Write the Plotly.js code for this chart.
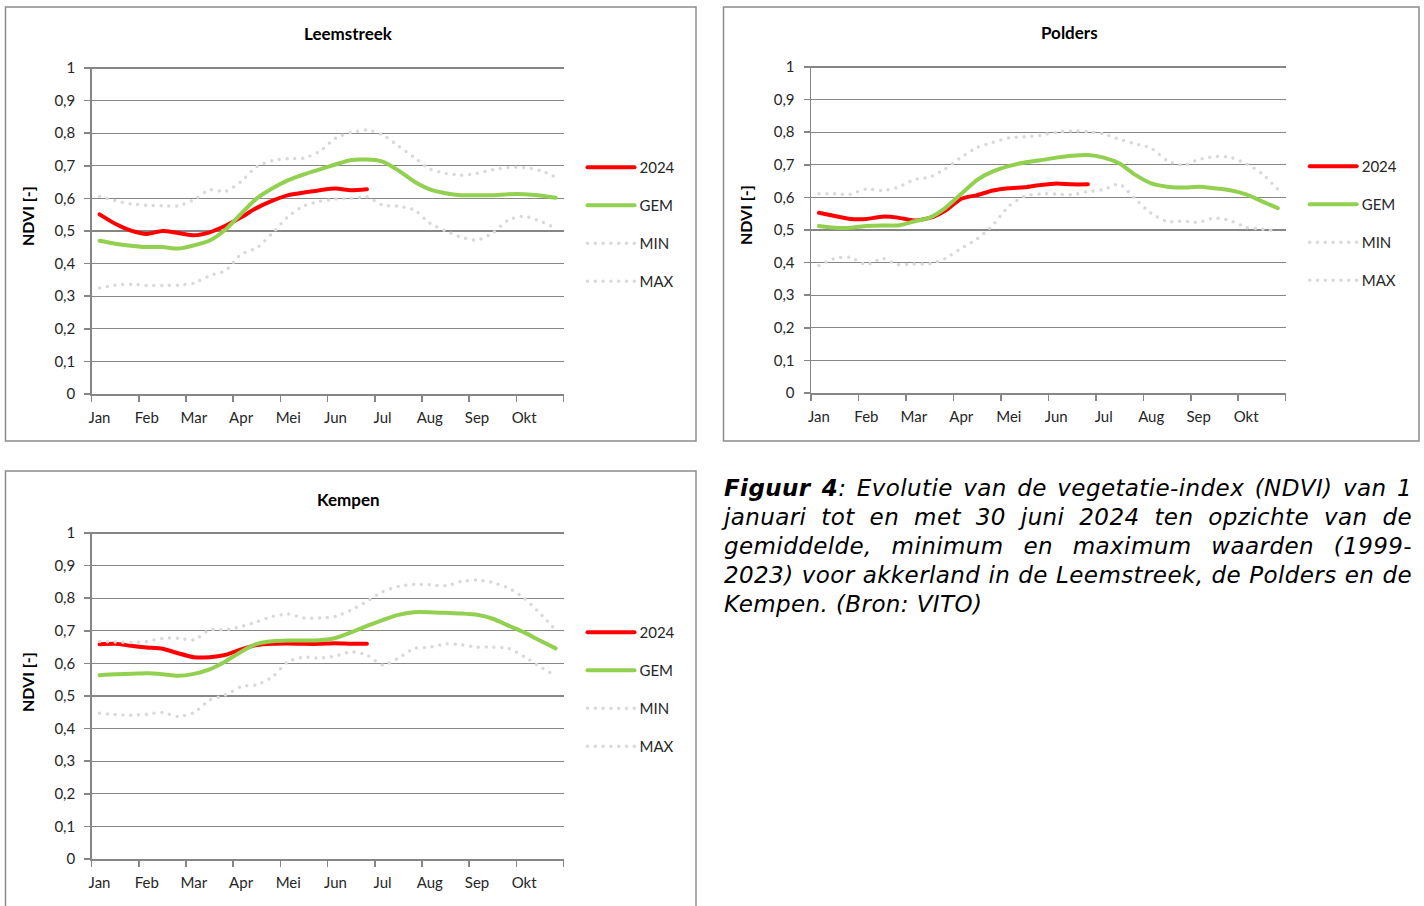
<!DOCTYPE html>
<html>
<head>
<meta charset="utf-8">
<script src="https://cdn.plot.ly/plotly-3.0.1.min.js"></script>
<style>
html, body { margin: 0; padding: 0; background: #fff; }
#wrap { position: relative; width: 1424px; height: 906px; overflow: hidden; }
#chart { position: absolute; left: 0; top: 0; width: 1424px; height: 906px; }
#chart path.js-line { stroke-linecap: round; stroke-linejoin: round; }
#caption { position: absolute; left: 724px; top: 474px; width: 688px;
  font-family: "DejaVu Sans", Verdana, sans-serif; font-style: italic; font-size: 23px;
  letter-spacing: 0.4px; line-height: 29px; color: #000; }
#caption .ln { text-align: justify; text-align-last: justify; white-space: nowrap; }
#caption .ln.last { text-align: left; text-align-last: left; }
</style>
</head>
<body>
<div id="wrap">
<div id="chart"></div>
<div id="caption">
<div class="ln"><b>Figuur 4</b>: Evolutie van de vegetatie-index (NDVI) van 1</div>
<div class="ln">januari tot en met 30 juni 2024 ten opzichte van de</div>
<div class="ln">gemiddelde, minimum en maximum waarden (1999-</div>
<div class="ln">2023) voor akkerland in de Leemstreek, de Polders en de</div>
<div class="ln last">Kempen. (Bron: VITO)</div>
</div>
</div>
<script>
// ---- data (3 values per month, Jan..Okt) ----
const months = ['Jan','Feb','Mar','Apr','Mei','Jun','Jul','Aug','Sep','Okt'];
const seriesNames = ['2024','GEM','MIN','MAX'];
const panelTitles = ['Leemstreek','Polders','Kempen'];
const yTitle = 'NDVI [-]';

const leem2024 = [0.551,0.522,0.501,0.491,0.500,0.494,0.487,0.496,0.516,0.542,0.571,0.593,0.610,0.618,0.625,0.630,0.625,0.628];
const leemGem  = [0.470,0.461,0.455,0.451,0.451,0.446,0.456,0.471,0.504,0.553,0.600,0.631,0.656,0.674,0.689,0.704,0.718,0.719,0.713,0.686,0.652,0.628,0.616,0.610,0.610,0.610,0.613,0.613,0.609,0.602];
const leemMin  = [0.325,0.334,0.337,0.333,0.333,0.334,0.340,0.363,0.378,0.429,0.448,0.494,0.545,0.577,0.591,0.598,0.600,0.605,0.579,0.576,0.565,0.524,0.500,0.481,0.472,0.494,0.534,0.545,0.530,0.509];
const leemMax  = [0.606,0.593,0.583,0.579,0.577,0.577,0.596,0.626,0.621,0.652,0.698,0.716,0.722,0.724,0.744,0.785,0.802,0.810,0.795,0.761,0.726,0.690,0.677,0.671,0.677,0.688,0.695,0.695,0.686,0.665];

const pold2024 = [0.553,0.543,0.534,0.534,0.541,0.538,0.529,0.537,0.560,0.596,0.607,0.621,0.628,0.631,0.638,0.643,0.640,0.640];
const poldGem  = [0.512,0.507,0.507,0.512,0.514,0.514,0.526,0.538,0.568,0.611,0.654,0.680,0.696,0.707,0.714,0.722,0.728,0.730,0.722,0.704,0.669,0.643,0.633,0.630,0.633,0.628,0.622,0.609,0.588,0.567];
const poldMin  = [0.391,0.413,0.416,0.393,0.413,0.394,0.396,0.396,0.413,0.444,0.473,0.515,0.573,0.604,0.611,0.610,0.608,0.618,0.624,0.641,0.595,0.551,0.526,0.527,0.524,0.537,0.529,0.508,0.503,0.496];
const poldMax  = [0.611,0.611,0.610,0.626,0.621,0.631,0.654,0.662,0.688,0.723,0.753,0.769,0.782,0.786,0.790,0.800,0.804,0.802,0.795,0.778,0.764,0.751,0.713,0.698,0.716,0.725,0.723,0.703,0.673,0.625];

const kemp2024 = [0.659,0.660,0.654,0.649,0.645,0.631,0.619,0.619,0.626,0.643,0.656,0.660,0.661,0.660,0.660,0.662,0.660,0.660];
const kempGem  = [0.564,0.567,0.568,0.570,0.567,0.562,0.568,0.582,0.606,0.636,0.660,0.668,0.670,0.670,0.671,0.678,0.695,0.715,0.733,0.749,0.757,0.757,0.755,0.753,0.749,0.737,0.716,0.695,0.670,0.646];
const kempMin  = [0.447,0.443,0.441,0.444,0.449,0.437,0.449,0.488,0.503,0.529,0.534,0.559,0.606,0.619,0.616,0.623,0.636,0.626,0.595,0.616,0.646,0.650,0.660,0.657,0.650,0.650,0.646,0.621,0.590,0.562];
const kempMax  = [0.667,0.666,0.664,0.667,0.677,0.677,0.672,0.703,0.703,0.713,0.728,0.744,0.752,0.739,0.739,0.744,0.764,0.790,0.820,0.836,0.842,0.841,0.838,0.851,0.856,0.848,0.831,0.800,0.754,0.703];

const yTicks = [0,0.1,0.2,0.3,0.4,0.5,0.6,0.7,0.8,0.9,1];

// ---- build ----
const W = 1424, H = 906;
const px = v => v / W;
const py = v => 1 - v / H;
const perMonth = 3;
const nCat = months.length * perMonth;
const idx = n => Array.from({length: n}, (_, i) => i);
const labelVals = months.map((m, i) => i * perMonth);
const tickMarks = Array.from({length: months.length + 1}, (_, i) => i * perMonth - 0.5);
const yTop = 1.004; // tiny headroom so the gridline at 1 is drawn

const panels = [
  {data: [leem2024, leemGem, leemMin, leemMax], xd: [91.7, 563.5], yd: [394, 68], legend: 'legend', box: [5.5, 696, 7, 441], title: [348, 34], ytitle: [27, 216]},
  {data: [pold2024, poldGem, poldMin, poldMax], xd: [811, 1285.7], yd: [393, 67], legend: 'legend2', box: [723.5, 1419, 7, 441], title: [1069, 33], ytitle: [745, 215]},
  {data: [kemp2024, kempGem, kempMin, kempMax], xd: [91.7, 563.5], yd: [859, 533], legend: 'legend3', box: [5.5, 696, 471, 920], title: [348, 499], ytitle: [27, 682]}
];

const styles = [
  {color: '#ff0000', width: 4, dash: 'solid'},
  {color: '#92d050', width: 4, dash: 'solid'},
  {color: '#d9d9d9', width: 3.5, dash: '0px,7.8px'},
  {color: '#d9d9d9', width: 3.5, dash: '0px,7.8px'}
];

const traces = [];
const layout = {
  width: W, height: H,
  margin: {l: 0, r: 0, t: 0, b: 0},
  paper_bgcolor: '#fff', plot_bgcolor: 'rgba(0,0,0,0)',
  separators: ', ',
  font: {family: 'Lato, "Open Sans", sans-serif', size: 15, color: '#262626'},
  showlegend: true,
  shapes: [], annotations: []
};

panels.forEach((p, k) => {
  const xa = k === 0 ? 'x' : 'x' + (k + 1);
  const ya = k === 0 ? 'y' : 'y' + (k + 1);
  p.data.forEach((vals, s) => {
    traces.push({
      type: 'scatter', mode: 'lines',
      x: idx(vals.length), y: vals,
      name: seriesNames[s],
      xaxis: xa, yaxis: ya,
      legend: p.legend,
      legendgroup: 'g' + k + '_' + s,
      line: {color: styles[s].color, width: styles[s].width, dash: styles[s].dash, shape: 'spline', smoothing: 0.6},
      hoverinfo: 'skip'
    });
  });
  const xKey = k === 0 ? 'xaxis' : 'xaxis' + (k + 1);
  const yKey = k === 0 ? 'yaxis' : 'yaxis' + (k + 1);
  const yPix = p.yd[0] - (p.yd[0] - p.yd[1]) * yTop;
  layout[xKey] = {
    domain: [px(p.xd[0]), px(p.xd[1])], anchor: ya,
    range: [-0.5, nCat - 0.5], fixedrange: true,
    tickmode: 'array', tickvals: labelVals, ticktext: months,
    ticks: '', ticklabelstandoff: 9,
    showgrid: false, zeroline: false,
    showline: true, linecolor: '#868686', linewidth: 1.5,
    tickfont: {size: 15, color: '#262626'},
    minor: {tickmode: 'array', tickvals: tickMarks, ticks: 'outside', ticklen: 6, tickwidth: 1.5, tickcolor: '#868686', showgrid: false}
  };
  layout[yKey] = {
    domain: [py(p.yd[0]), py(yPix)], anchor: xa,
    range: [0, yTop], fixedrange: true,
    tickmode: 'array', tickvals: yTicks,
    ticks: 'outside', ticklen: 6, tickwidth: 1.5, tickcolor: '#868686',
    ticklabelstandoff: 6,
    showgrid: true, gridcolor: '#868686', gridwidth: 1.3,
    zeroline: false, showline: true, linecolor: '#868686', linewidth: 1.5,
    tickfont: {size: 15, color: '#262626'}
  };
  layout[p.legend] = {
    x: px(p.xd[1] + 19), xanchor: 'left',
    y: py(p.yd[1] + 83), yanchor: 'top',
    bgcolor: 'rgba(0,0,0,0)', borderwidth: 0,
    font: {size: 15, color: '#262626'},
    itemwidth: 47,
    tracegroupgap: 15.5, traceorder: 'grouped',
    itemclick: false, itemdoubleclick: false
  };
  layout.shapes.push({
    type: 'rect', xref: 'paper', yref: 'paper', layer: 'below',
    x0: px(p.box[0]), x1: px(p.box[1]), y0: py(p.box[3]), y1: py(p.box[2]),
    line: {color: '#8c8c8c', width: 1.5}, fillcolor: 'rgba(0,0,0,0)'
  });
  layout.annotations.push({
    xref: 'paper', yref: 'paper', x: px(p.title[0]), y: py(p.title[1]),
    xanchor: 'center', yanchor: 'middle', showarrow: false,
    text: '<b>' + panelTitles[k] + '</b>', font: {size: 17, color: '#000'}
  });
  layout.annotations.push({
    xref: 'paper', yref: 'paper', x: px(p.ytitle[0]), y: py(p.ytitle[1]),
    xanchor: 'center', yanchor: 'middle', showarrow: false, textangle: -90,
    text: '<b>' + yTitle + '</b>', font: {size: 16, color: '#000'}
  });
});

Plotly.newPlot('chart', traces, layout, {staticPlot: true, displayModeBar: false});
</script>
</body>
</html>
